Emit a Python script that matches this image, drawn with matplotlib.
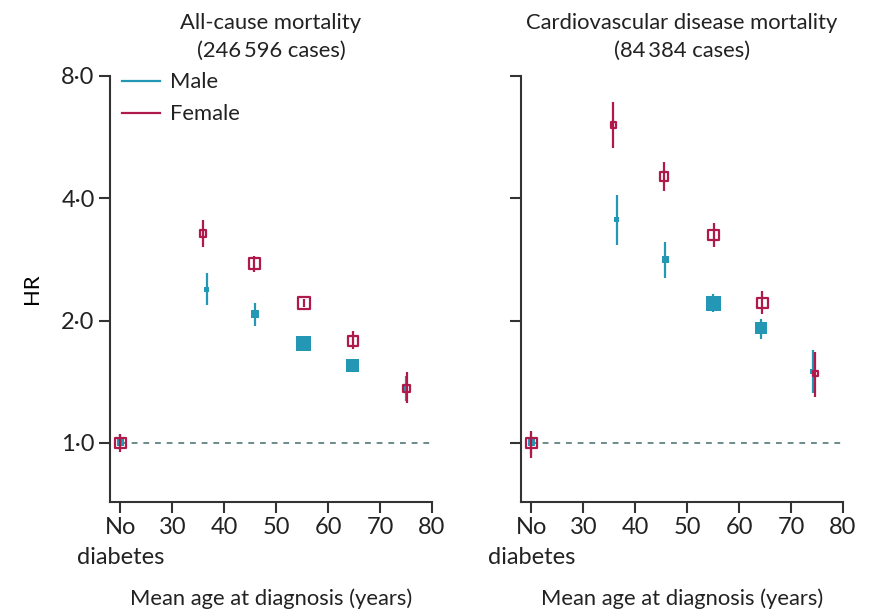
import matplotlib.pyplot as plt
from matplotlib.lines import Line2D
from matplotlib.ticker import FixedLocator, NullLocator

plt.rcParams['font.family'] = ['Lato', 'DejaVu Sans']

TEAL = '#2397b3'
RED = '#b01a4a'

# x positions: 20 stands for "No diabetes"
xticks = [20, 30, 40, 50, 60, 70, 80]
xticklabels = ['No', '30', '40', '50', '60', '70', '80']
yticks = [1, 2, 4, 8]
yticklabels = ['1\u00b70', '2\u00b70', '4\u00b70', '8\u00b70']

titles = ['All-cause mortality\n(246\u2009596 cases)',
          'Cardiovascular disease mortality\n(84\u2009384 cases)']

# all-cause mortality
ac_age_m = [20, 36.6, 46.0, 55.3, 64.6, 74.9]
ac_hr_m = [1.0, 2.39, 2.07, 1.76, 1.55, 1.36]
ac_lo_m = [0.96, 2.18, 1.94, 1.72, 1.51, 1.27]
ac_hi_m = [1.05, 2.62, 2.21, 1.80, 1.59, 1.46]
ac_age_f = [20, 35.9, 45.8, 55.4, 64.8, 75.1]
ac_hr_f = [1.0, 3.28, 2.76, 2.21, 1.78, 1.36]
ac_lo_f = [0.95, 3.03, 2.64, 2.16, 1.70, 1.25]
ac_hi_f = [1.05, 3.53, 2.88, 2.26, 1.88, 1.49]

# cardiovascular disease mortality
cv_age_m = [20, 36.4, 45.8, 55.0, 64.2, 74.2]
cv_hr_m = [1.0, 3.55, 2.83, 2.20, 1.92, 1.50]
cv_lo_m = [0.94, 3.07, 2.55, 2.10, 1.80, 1.33]
cv_hi_m = [1.06, 4.08, 3.12, 2.33, 2.02, 1.69]
cv_age_f = [20, 35.8, 45.5, 55.1, 64.5, 74.7]
cv_hr_f = [1.0, 6.06, 4.53, 3.25, 2.21, 1.48]
cv_lo_f = [0.92, 5.33, 4.17, 3.04, 2.07, 1.30]
cv_hi_f = [1.07, 6.90, 4.92, 3.47, 2.36, 1.67]

# box side in pixels (weights)
ac_box_m = [7, 5, 8, 15, 13, 5]
ac_box_f = [12, 8, 13, 14, 11, 8]
cv_box_m = [7, 5, 7, 15, 12, 5]
cv_box_f = [12, 7, 10, 12, 12, 7]

panels = [
    (ac_age_m, ac_hr_m, ac_lo_m, ac_hi_m, ac_box_m,
     ac_age_f, ac_hr_f, ac_lo_f, ac_hi_f, ac_box_f),
    (cv_age_m, cv_hr_m, cv_lo_m, cv_hi_m, cv_box_m,
     cv_age_f, cv_hr_f, cv_lo_f, cv_hi_f, cv_box_f),
]

fig = plt.figure(figsize=(8.79, 6.10), dpi=100)
lefts = [110 / 879, 521 / 879]
FS = 15.8
TS = 17


def s_of(px):
    return [(p * 0.72) ** 2 for p in px]


for i, (am, hm, lm, um, bm, af, hf, lf, uf, bf) in enumerate(panels):
    ax = fig.add_axes([lefts[i], 108 / 610, 322 / 879, 426 / 610])
    ax.set_yscale('log')
    ax.set_xlim(18, 80)
    ax.set_ylim(0.715, 8.0)

    ax.hlines(1, 20, 80, colors='#6b8c8c', linestyles=(0, (3, 3)), lw=1.4, zorder=1)

    ax.vlines(am, lm, um, colors=TEAL, lw=1.6, zorder=2)
    ax.scatter(am, hm, s=s_of(bm), marker='s', color=TEAL, linewidths=0, zorder=3)
    ax.vlines(af, lf, uf, colors=RED, lw=1.6, zorder=4)
    ax.scatter(af, hf, s=s_of([b - 1.5 for b in bf]), marker='s', facecolors='none',
               edgecolors=RED, linewidths=1.6, zorder=5)

    for sp in ['top', 'right']:
        ax.spines[sp].set_visible(False)
    for sp in ['left', 'bottom']:
        ax.spines[sp].set_linewidth(1.5)
        ax.spines[sp].set_color('#333333')

    ax.yaxis.set_major_locator(FixedLocator(yticks))
    ax.yaxis.set_minor_locator(NullLocator())
    if i == 0:
        ax.set_yticklabels(yticklabels)
        ax.set_ylabel('HR', fontsize=FS, labelpad=14)
    else:
        ax.set_yticklabels([])
    ax.set_xticks(xticks)
    ax.set_xticklabels(xticklabels)
    ax.tick_params(axis='both', length=8, width=1.5, color='#333333',
                   labelsize=TS, pad=3, labelcolor='#222222')
    # second line of the "No diabetes" tick label
    ax.annotate('diabetes', xy=(xticks[0], 0), xycoords=('data', 'axes fraction'),
                xytext=(0, -56), textcoords='offset pixels', ha='center', va='center',
                fontsize=TS, color='#222222')
    ax.set_xlabel('Mean age at diagnosis (years)', fontsize=FS, labelpad=36, color='#222222')
    ax.set_title(titles[i], fontsize=FS, linespacing=1.5, pad=14, color='#222222')

    if i == 0:
        handles = [Line2D([], [], color=TEAL, lw=1.6), Line2D([], [], color=RED, lw=1.6)]
        ax.legend(handles, ['Male', 'Female'], loc='upper left', frameon=False,
                  bbox_to_anchor=(-0.025, 1.055), fontsize=FS, handlelength=1.75,
                  handletextpad=0.45, labelspacing=0.55, labelcolor='#222222')

fig.savefig('out.png', dpi=100)
